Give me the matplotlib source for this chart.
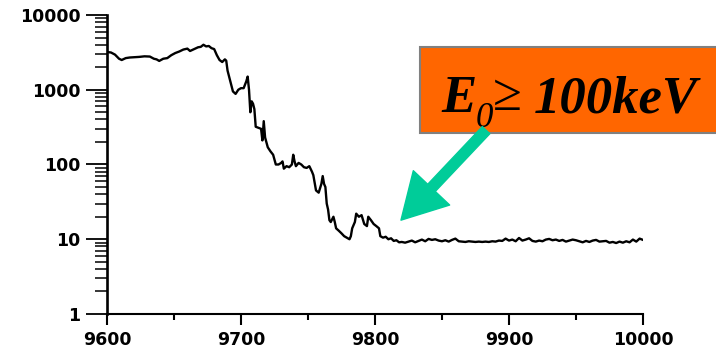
import matplotlib
matplotlib.use("Agg")
import matplotlib.pyplot as plt
from matplotlib.patches import Rectangle
from matplotlib.ticker import MultipleLocator, LogLocator, NullFormatter, FixedLocator

# spectrum: energy (eV) and counts
energy = [9600, 9603, 9606, 9609, 9611, 9614, 9617, 9620, 9624, 9628,
          9632, 9635, 9637, 9639, 9642, 9645, 9648, 9651, 9654, 9657,
          9660, 9662, 9665, 9668, 9670, 9672, 9674, 9676, 9678, 9680,
          9682, 9684, 9686, 9688, 9689, 9690, 9692, 9694, 9696, 9698,
          9700, 9702, 9704, 9705, 9706, 9707, 9708, 9709, 9710, 9711,
          9713, 9715, 9716, 9717, 9718, 9720, 9722, 9724, 9726, 9728,
          9730, 9731, 9732, 9734, 9736, 9738, 9739, 9740, 9741, 9743,
          9745, 9747, 9749, 9751, 9753, 9754, 9756, 9758, 9760, 9761,
          9762, 9763, 9764, 9765, 9766, 9767, 9769, 9770, 9771, 9773,
          9775, 9777, 9779, 9781, 9782, 9783, 9785, 9786, 9788, 9790,
          9792, 9794, 9795, 9797, 9799, 9801, 9803, 9804, 9806, 9808,
          9810, 9812, 9814, 9816, 9818,
          9820, 9822.5, 9825, 9827.5, 9830, 9832.5, 9835, 9837.5, 9840, 9842.5,
          9845, 9847.5, 9850, 9852.5, 9855, 9857.5, 9860, 9862.5, 9865, 9867.5,
          9870, 9872.5, 9875, 9877.5, 9880, 9882.5, 9885, 9887.5, 9890, 9892.5,
          9895, 9897.5, 9900, 9902.5, 9905, 9907.5, 9910, 9912.5, 9915, 9917.5,
          9920, 9922.5, 9925, 9927.5, 9930, 9932.5, 9935, 9937.5, 9940, 9942.5,
          9945, 9947.5, 9950, 9952.5, 9955, 9957.5, 9960, 9962.5, 9965, 9967.5,
          9970, 9972.5, 9975, 9977.5, 9980, 9982.5, 9985, 9987.5, 9990, 9992.5,
          9995, 9997.5, 10000]
counts = [3200, 3150, 2950, 2600, 2500, 2650, 2700, 2720, 2750, 2800,
          2780, 2600, 2550, 2430, 2600, 2650, 2900, 3100, 3250, 3450,
          3550, 3300, 3500, 3700, 3750, 4000, 3800, 3850, 3600, 3500,
          2900, 2500, 2350, 2550, 2450, 1800, 1300, 950, 880, 1000,
          1050, 1050, 1300, 1500, 1000, 500, 700, 650, 550, 320,
          310, 300, 210, 380, 230, 170, 150, 135, 100, 100,
          105, 110, 88, 95, 92, 100, 135, 110, 95, 105,
          100, 92, 90, 95, 80, 72, 45, 42, 55, 70,
          55, 50, 30, 25, 18, 17, 20, 17, 14, 13,
          12, 11, 10.5, 10, 11, 14, 17, 22, 20, 21,
          16, 15, 20, 18, 16, 15, 14, 11, 10.5, 10.8,
          10, 10.3, 9.5, 9.7, 9.1,
          9.2, 9.0, 9.3, 9.6, 9.1, 9.5, 9.9, 9.4, 10.1, 9.8,
          10.0, 9.6, 9.4, 9.7, 9.3, 9.8, 10.2, 9.4, 9.3, 9.2,
          9.4, 9.3, 9.2, 9.3, 9.2, 9.3, 9.2, 9.4, 9.3, 9.6,
          9.5, 10.2, 9.6, 9.9, 9.4, 10.4, 9.6, 9.9, 10.3, 9.5,
          9.3, 9.6, 9.4, 9.9, 10.1, 9.7, 9.9, 9.5, 9.8, 9.3,
          9.6, 9.9, 9.7, 9.4, 9.1, 9.5, 9.2, 9.6, 9.8, 9.3,
          9.4, 9.5, 9.0, 9.2, 8.9, 9.3, 9.0, 9.4, 9.1, 9.9,
          9.3, 10.2, 9.8]

x_ticks = [9600, 9700, 9800, 9900, 10000]
y_ticks = [1, 10, 100, 1000, 10000]

fig = plt.figure(figsize=(7.16, 3.48), dpi=100)
ax = fig.add_axes([0.1494, 0.0977, 0.7486, 0.8592])

ax.plot(energy, counts, color='black', lw=1.7)
ax.set_yscale('log')
ax.set_xlim(9600, 10000)
ax.set_ylim(1, 10000)

ax.spines['top'].set_visible(False)
ax.spines['right'].set_visible(False)
ax.spines['left'].set_linewidth(1.9)
ax.spines['bottom'].set_linewidth(1.5)

ax.xaxis.set_major_locator(FixedLocator(x_ticks))
ax.xaxis.set_minor_locator(MultipleLocator(50))
ax.yaxis.set_major_locator(FixedLocator(y_ticks))
ax.yaxis.set_minor_locator(LogLocator(base=10, subs=range(2, 10)))
ax.yaxis.set_minor_formatter(NullFormatter())
ax.set_yticklabels([str(v) for v in y_ticks])
ax.set_xticklabels([str(v) for v in x_ticks])

ax.tick_params(axis='y', which='major', direction='out', length=15, width=1.3, pad=4)
ax.tick_params(axis='y', which='minor', direction='out', length=9, width=1.1)
ax.tick_params(axis='x', which='major', direction='out', length=8, width=1.5, pad=4)
ax.tick_params(axis='x', which='minor', direction='out', length=4, width=1.5)
for t in ax.get_xticklabels() + ax.get_yticklabels():
    t.set_fontfamily('DejaVu Sans')
    t.set_fontweight('bold')
    t.set_fontsize(12.5)

# orange label box and green arrow
box = Rectangle((0.5866, 0.618), 0.5, 0.247, transform=fig.transFigure,
                facecolor='#FF6600', edgecolor='#808080', lw=1.5,
                clip_on=False, zorder=5)
ax.add_patch(box)
serif = 'Liberation Serif'
tf = fig.transFigure
ax.text(0.616, 0.678, 'E', transform=tf, fontsize=38, family=serif,
        style='italic', weight='bold', va='baseline', zorder=6)
ax.text(0.664, 0.636, '0', transform=tf, fontsize=25, family=serif,
        style='italic', va='baseline', zorder=6)
ax.text(0.689, 0.684, '\u2265', transform=tf, fontsize=38, family=serif,
        va='baseline', zorder=6)
ax.text(0.745, 0.678, '100keV', transform=tf, fontsize=38, family=serif,
        style='italic', weight='bold', va='baseline', zorder=6)

ax.annotate('', xy=(9819.4, 18), xytext=(9882.9, 288),
            arrowprops=dict(arrowstyle='simple,head_length=3.2,head_width=3.6,tail_width=0.75',
                            mutation_scale=10, color='#00CC99', shrinkA=0, shrinkB=0),
            annotation_clip=False, zorder=7)

fig.savefig('out.png', dpi=100)
